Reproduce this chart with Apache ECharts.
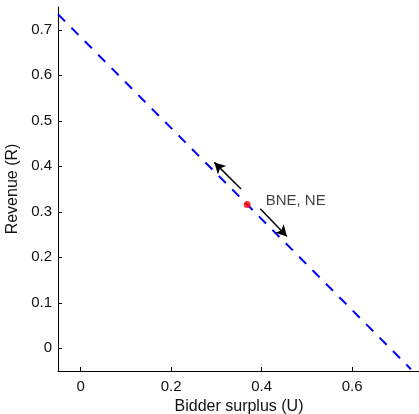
<!DOCTYPE html>
<html>
<head>
<meta charset="utf-8">
<script src="https://cdn.jsdelivr.net/npm/echarts@6/dist/echarts.min.js"></script>
<style>html,body{margin:0;padding:0;background:#fff;}#chart{width:419px;height:414px;}</style>
</head>
<body>
<div id="chart"></div>
<script>
// Data
var lineU = [-0.05, 0.73];
var lineR = [0.734, -0.046];
var pointU = [0.368];
var pointR = [0.316];
var pointLabel = 'BNE, NE';
var arrowUp = [[0.3545, 0.350], [0.2955, 0.4085]];
var arrowDown = [[0.397, 0.3066], [0.456, 0.2457]];
var xTicks = [0, 0.2, 0.4, 0.6];
var yTicks = [0, 0.1, 0.2, 0.3, 0.4, 0.5, 0.6, 0.7];
var xName = 'Bidder surplus (U)';
var yName = 'Revenue (R)';

var font = 'Liberation Sans, Arial, Helvetica, sans-serif';
var chart = echarts.init(document.getElementById('chart'), null, {renderer: 'canvas'});

function fmt(v) { return v === 0 ? '0' : String(Math.round(v * 10) / 10); }

var lineData = lineU.map(function (u, i) { return [u, lineR[i]]; });
var ptData = pointU.map(function (u, i) { return [u, pointR[i]]; });

function arrowLine(a) {
  return [{coord: a[0]}, {coord: a[1]}];
}

chart.setOption({
  animation: false,
  backgroundColor: '#fff',
  grid: {left: 58, top: 7, width: 362, height: 364, outerBoundsMode: 'none', containLabel: false},
  xAxis: {
    type: 'value', min: -0.05, max: 0.75,
    name: xName, nameLocation: 'middle', nameGap: 27,
    nameTextStyle: {color: '#111', fontSize: 16, fontFamily: font},
    axisLine: {show: true, onZero: false, lineStyle: {color: '#000', width: 1}},
    axisTick: {show: true, inside: true, length: 4, customValues: xTicks, lineStyle: {color: '#000'}},
    axisLabel: {show: true, customValues: xTicks, formatter: fmt, color: '#111', fontSize: 15, fontFamily: font, margin: 8},
    splitLine: {show: false}
  },
  yAxis: {
    type: 'value', min: -0.05, max: 0.75,
    name: yName, nameLocation: 'middle', nameGap: 36,
    nameTextStyle: {color: '#111', fontSize: 16, fontFamily: font},
    axisLine: {show: true, onZero: false, lineStyle: {color: '#000', width: 1}},
    axisTick: {show: true, inside: true, length: 4, customValues: yTicks, lineStyle: {color: '#000'}},
    axisLabel: {show: true, customValues: yTicks, formatter: fmt, color: '#111', fontSize: 15, fontFamily: font, margin: 6},
    splitLine: {show: false}
  },
  series: [
    {
      type: 'line', data: lineData, showSymbol: false, symbol: 'none',
      lineStyle: {color: '#0000ff', width: 2, type: [10, 9]},
      silent: true, z: 2,
      markLine: {
        silent: true, symbol: ['none', 'arrow'], symbolSize: [9, 11],
        label: {show: false},
        lineStyle: {color: '#000', width: 1.5, type: 'solid'},
        data: [arrowLine(arrowUp), arrowLine(arrowDown)]
      }
    },
    {
      type: 'scatter', data: ptData, symbol: 'circle', symbolSize: 7,
      itemStyle: {color: '#ff0000'}, silent: true, z: 5,
      label: {show: true, formatter: pointLabel, position: 'right', distance: 15, offset: [0, -4],
        color: '#111', fontSize: 15, fontFamily: font}
    }
  ]
});
</script>
</body>
</html>
